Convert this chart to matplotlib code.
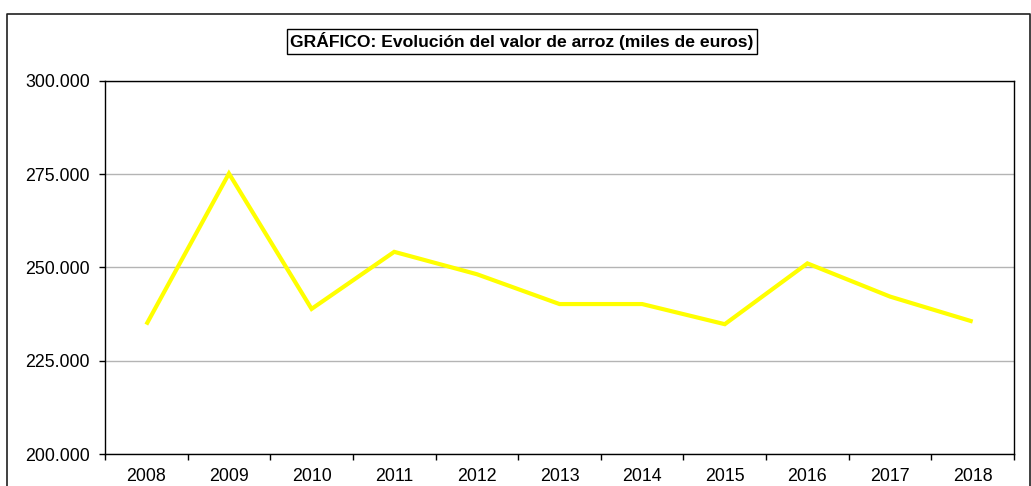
import matplotlib
matplotlib.use("Agg")
import matplotlib.pyplot as plt
from matplotlib.ticker import FuncFormatter, FixedLocator
from matplotlib.lines import Line2D

years = ["2008", "2009", "2010", "2011", "2012", "2013", "2014", "2015", "2016", "2017", "2018"]
values = [234700, 275200, 238900, 254200, 248200, 240200, 240200, 234800, 251100, 242200, 235500]
y_ticks = [200000, 225000, 250000, 275000, 300000]
title = "GRÁFICO: Evolución del valor de arroz (miles de euros)"

plt.rcParams['font.family'] = ['Liberation Sans', 'DejaVu Sans']

fig = plt.figure(figsize=(10.31, 4.86), dpi=100)
ax = fig.add_axes([105/1031, 1 - 454/486, (1014 - 105)/1031, (454 - 81)/486])

x = list(range(len(years)))
ax.plot(x, values, color="#FFFF00", lw=3.0, solid_joinstyle="miter", solid_capstyle="butt", zorder=3)

ax.set_xlim(-0.5, len(years) - 0.5)
ax.set_ylim(200000, 300000)
ax.set_yticks(y_ticks)
ax.yaxis.set_major_formatter(FuncFormatter(lambda v, p: f"{int(v):,}".replace(",", ".")))
ax.set_xticks(x)
ax.set_xticklabels(years)
ax.xaxis.set_minor_locator(FixedLocator([i - 0.5 for i in range(len(years) + 1)]))
ax.tick_params(axis="x", which="major", length=0, pad=10, labelsize=12.8)
ax.tick_params(axis="x", which="minor", length=4, width=1, direction="out")
ax.tick_params(axis="y", which="major", length=4, width=1, direction="out", pad=7, labelsize=12.8)

ax.grid(axis="y", color="#b4b4b4", lw=1.0)
ax.set_axisbelow(True)
for s in ax.spines.values():
    s.set_color("black")
    s.set_linewidth(1.0)

# title box
fig.text(522/1031, 1 - 41.5/486, title, ha="center", va="center", fontsize=12.6, fontweight="bold",
         bbox=dict(boxstyle="square,pad=0.2", fc="white", ec="black", lw=1.0))

# figure border (bottom cut off)
fl = Line2D([6.5/1031, 6.5/1031, 1030/1031, 1030/1031], [-0.05, 1 - 14/486, 1 - 14/486, -0.05],
            transform=fig.transFigure, color="#202020", lw=1.2)
fig.add_artist(fl)

fig.savefig("out.png", dpi=100)
